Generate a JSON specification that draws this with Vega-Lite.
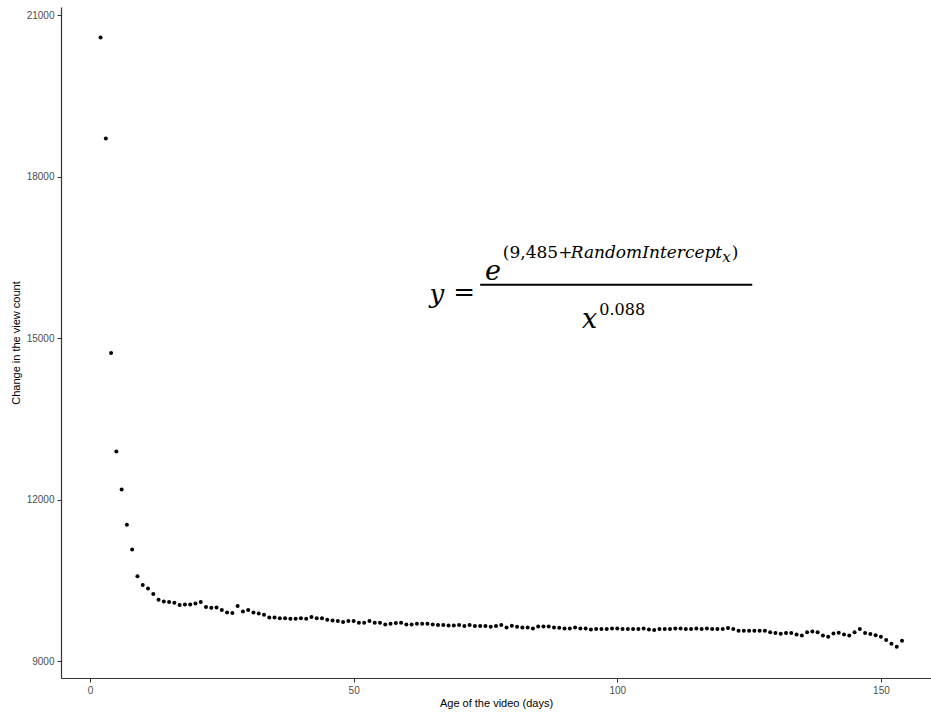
{
  "$schema": "https://vega.github.io/schema/vega-lite/v6.json",
  "width": 870,
  "height": 671,
  "autosize": {"type": "none"},
  "padding": {"left": 61, "top": 7, "right": 0, "bottom": 35},
  "background": "white",
  "config": {
    "view": {"stroke": null},
    "axis": {
      "grid": false,
      "domainColor": "#333333",
      "domainWidth": 1.2,
      "tickColor": "#333333",
      "tickWidth": 1,
      "tickSize": 4,
      "labelColor": "#4D4D4D",
      "labelFont": "Liberation Sans",
      "labelFontSize": 10,
      "titleFont": "Liberation Sans",
      "titleFontSize": 11,
      "titleFontWeight": "normal",
      "titleColor": "#000000",
      "labelPadding": 3
    }
  },
  "layer": [
    {
      "data": {
        "values": [
          {"age": 2, "views": 20586}, {"age": 3, "views": 18712}, {"age": 4, "views": 14728}, {"age": 5, "views": 12897},
          {"age": 6, "views": 12192}, {"age": 7, "views": 11536}, {"age": 8, "views": 11078}, {"age": 9, "views": 10580},
          {"age": 10, "views": 10420}, {"age": 11, "views": 10352}, {"age": 12, "views": 10250}, {"age": 13, "views": 10145},
          {"age": 14, "views": 10113}, {"age": 15, "views": 10102}, {"age": 16, "views": 10089}, {"age": 17, "views": 10046},
          {"age": 18, "views": 10058}, {"age": 19, "views": 10058}, {"age": 20, "views": 10077}, {"age": 21, "views": 10102},
          {"age": 22, "views": 10009}, {"age": 23, "views": 9996}, {"age": 24, "views": 10002}, {"age": 25, "views": 9953},
          {"age": 26, "views": 9909}, {"age": 27, "views": 9897}, {"age": 28, "views": 10027}, {"age": 29, "views": 9927},
          {"age": 30, "views": 9953}, {"age": 31, "views": 9909}, {"age": 32, "views": 9890}, {"age": 33, "views": 9866},
          {"age": 34, "views": 9816}, {"age": 35, "views": 9816}, {"age": 36, "views": 9804}, {"age": 37, "views": 9804},
          {"age": 38, "views": 9792}, {"age": 39, "views": 9792}, {"age": 40, "views": 9804}, {"age": 41, "views": 9792},
          {"age": 42, "views": 9823}, {"age": 43, "views": 9800}, {"age": 44, "views": 9804}, {"age": 45, "views": 9773},
          {"age": 46, "views": 9761}, {"age": 47, "views": 9749}, {"age": 48, "views": 9730}, {"age": 49, "views": 9749},
          {"age": 50, "views": 9749}, {"age": 51, "views": 9718}, {"age": 52, "views": 9718}, {"age": 53, "views": 9749},
          {"age": 54, "views": 9718}, {"age": 55, "views": 9718}, {"age": 56, "views": 9687}, {"age": 57, "views": 9699},
          {"age": 58, "views": 9712}, {"age": 59, "views": 9718}, {"age": 60, "views": 9687}, {"age": 61, "views": 9687},
          {"age": 62, "views": 9699}, {"age": 63, "views": 9699}, {"age": 64, "views": 9699}, {"age": 65, "views": 9687},
          {"age": 66, "views": 9675}, {"age": 67, "views": 9675}, {"age": 68, "views": 9668}, {"age": 69, "views": 9668},
          {"age": 70, "views": 9675}, {"age": 71, "views": 9656}, {"age": 72, "views": 9675}, {"age": 73, "views": 9656},
          {"age": 74, "views": 9656}, {"age": 75, "views": 9656}, {"age": 76, "views": 9644}, {"age": 77, "views": 9656},
          {"age": 78, "views": 9675}, {"age": 79, "views": 9628}, {"age": 80, "views": 9662}, {"age": 81, "views": 9643},
          {"age": 82, "views": 9631}, {"age": 83, "views": 9631}, {"age": 84, "views": 9612}, {"age": 85, "views": 9650},
          {"age": 86, "views": 9650}, {"age": 87, "views": 9650}, {"age": 88, "views": 9631}, {"age": 89, "views": 9625},
          {"age": 90, "views": 9612}, {"age": 91, "views": 9612}, {"age": 92, "views": 9631}, {"age": 93, "views": 9612},
          {"age": 94, "views": 9612}, {"age": 95, "views": 9594}, {"age": 96, "views": 9600}, {"age": 97, "views": 9600},
          {"age": 98, "views": 9600}, {"age": 99, "views": 9612}, {"age": 100, "views": 9612}, {"age": 101, "views": 9600},
          {"age": 102, "views": 9600}, {"age": 103, "views": 9600}, {"age": 104, "views": 9600}, {"age": 105, "views": 9612},
          {"age": 106, "views": 9594}, {"age": 107, "views": 9582}, {"age": 108, "views": 9600}, {"age": 109, "views": 9600},
          {"age": 110, "views": 9600}, {"age": 111, "views": 9612}, {"age": 112, "views": 9612}, {"age": 113, "views": 9600},
          {"age": 114, "views": 9600}, {"age": 115, "views": 9612}, {"age": 116, "views": 9600}, {"age": 117, "views": 9612},
          {"age": 118, "views": 9600}, {"age": 119, "views": 9600}, {"age": 120, "views": 9600}, {"age": 121, "views": 9619},
          {"age": 122, "views": 9600}, {"age": 123, "views": 9569}, {"age": 124, "views": 9569}, {"age": 125, "views": 9569},
          {"age": 126, "views": 9569}, {"age": 127, "views": 9569}, {"age": 128, "views": 9569}, {"age": 129, "views": 9544},
          {"age": 130, "views": 9526}, {"age": 131, "views": 9513}, {"age": 132, "views": 9526}, {"age": 133, "views": 9526},
          {"age": 134, "views": 9501}, {"age": 135, "views": 9482}, {"age": 136, "views": 9544}, {"age": 137, "views": 9557},
          {"age": 138, "views": 9544}, {"age": 139, "views": 9482}, {"age": 140, "views": 9458}, {"age": 141, "views": 9519},
          {"age": 142, "views": 9532}, {"age": 143, "views": 9501}, {"age": 144, "views": 9482}, {"age": 145, "views": 9544},
          {"age": 146, "views": 9600}, {"age": 147, "views": 9526}, {"age": 148, "views": 9507}, {"age": 149, "views": 9488},
          {"age": 150, "views": 9458}, {"age": 151, "views": 9396}, {"age": 152, "views": 9328}, {"age": 153, "views": 9272},
          {"age": 154, "views": 9383}
        ]
      },
      "mark": {"type": "circle", "size": 16, "color": "#000000", "opacity": 1},
      "encoding": {
        "x": {
          "field": "age", "type": "quantitative",
          "scale": {"domain": [-5.5, 159.5], "nice": false, "zero": false},
          "axis": {"title": "Age of the video (days)", "values": [0, 50, 100, 150], "format": "d", "titlePadding": 2}
        },
        "y": {
          "field": "views", "type": "quantitative",
          "scale": {"domain": [8692, 21154], "nice": false, "zero": false},
          "axis": {"title": "Change in the view count", "values": [9000, 12000, 15000, 18000, 21000], "format": "d", "titlePadding": 5}
        }
      }
    },
    {
      "data": {"values": [{}]},
      "mark": {"type": "rule", "color": "#000000", "strokeWidth": 2},
      "encoding": {"x": {"datum": 74.0}, "x2": {"datum": 125.6}, "y": {"datum": 15994}}
    },
    {
      "data": {"values": [{}]},
      "mark": {"type": "text", "text": "y", "font": "DejaVu Serif", "fontStyle": "italic", "fontSize": 26, "align": "left", "baseline": "alphabetic", "color": "#000000"},
      "encoding": {"x": {"datum": 64.4}, "y": {"datum": 15659}}
    },
    {
      "data": {"values": [{}]},
      "mark": {"type": "text", "text": "=", "font": "DejaVu Serif", "fontSize": 26, "align": "left", "baseline": "alphabetic", "color": "#000000"},
      "encoding": {"x": {"datum": 68.9}, "y": {"datum": 15696}}
    },
    {
      "data": {"values": [{}]},
      "mark": {"type": "text", "text": "e", "font": "DejaVu Serif", "fontStyle": "italic", "fontSize": 27, "align": "left", "baseline": "alphabetic", "color": "#000000"},
      "encoding": {"x": {"datum": 74.9}, "y": {"datum": 16086}}
    },
    {
      "data": {"values": [{}]},
      "mark": {"type": "text", "text": "(9,485+", "font": "DejaVu Serif", "fontSize": 17, "align": "left", "baseline": "alphabetic", "color": "#000000"},
      "encoding": {"x": {"datum": 78.3}, "y": {"datum": 16495}}
    },
    {
      "data": {"values": [{}]},
      "mark": {"type": "text", "text": "RandomIntercept", "font": "DejaVu Serif", "fontStyle": "italic", "fontSize": 17, "align": "right", "baseline": "alphabetic", "color": "#000000"},
      "encoding": {"x": {"datum": 119.9}, "y": {"datum": 16495}}
    },
    {
      "data": {"values": [{}]},
      "mark": {"type": "text", "text": "x", "font": "DejaVu Serif", "fontStyle": "italic", "fontSize": 15, "align": "left", "baseline": "alphabetic", "color": "#000000"},
      "encoding": {"x": {"datum": 119.9}, "y": {"datum": 16420}}
    },
    {
      "data": {"values": [{}]},
      "mark": {"type": "text", "text": ")", "font": "DejaVu Serif", "fontSize": 17, "align": "left", "baseline": "alphabetic", "color": "#000000"},
      "encoding": {"x": {"datum": 121.7}, "y": {"datum": 16495}}
    },
    {
      "data": {"values": [{}]},
      "mark": {"type": "text", "text": "x", "font": "DejaVu Serif", "fontStyle": "italic", "fontSize": 27, "align": "left", "baseline": "alphabetic", "color": "#000000"},
      "encoding": {"x": {"datum": 93.3}, "y": {"datum": 15195}}
    },
    {
      "data": {"values": [{}]},
      "mark": {"type": "text", "text": "0.088", "font": "DejaVu Serif", "fontSize": 16, "align": "left", "baseline": "alphabetic", "color": "#000000"},
      "encoding": {"x": {"datum": 96.6}, "y": {"datum": 15437}}
    }
  ]
}
